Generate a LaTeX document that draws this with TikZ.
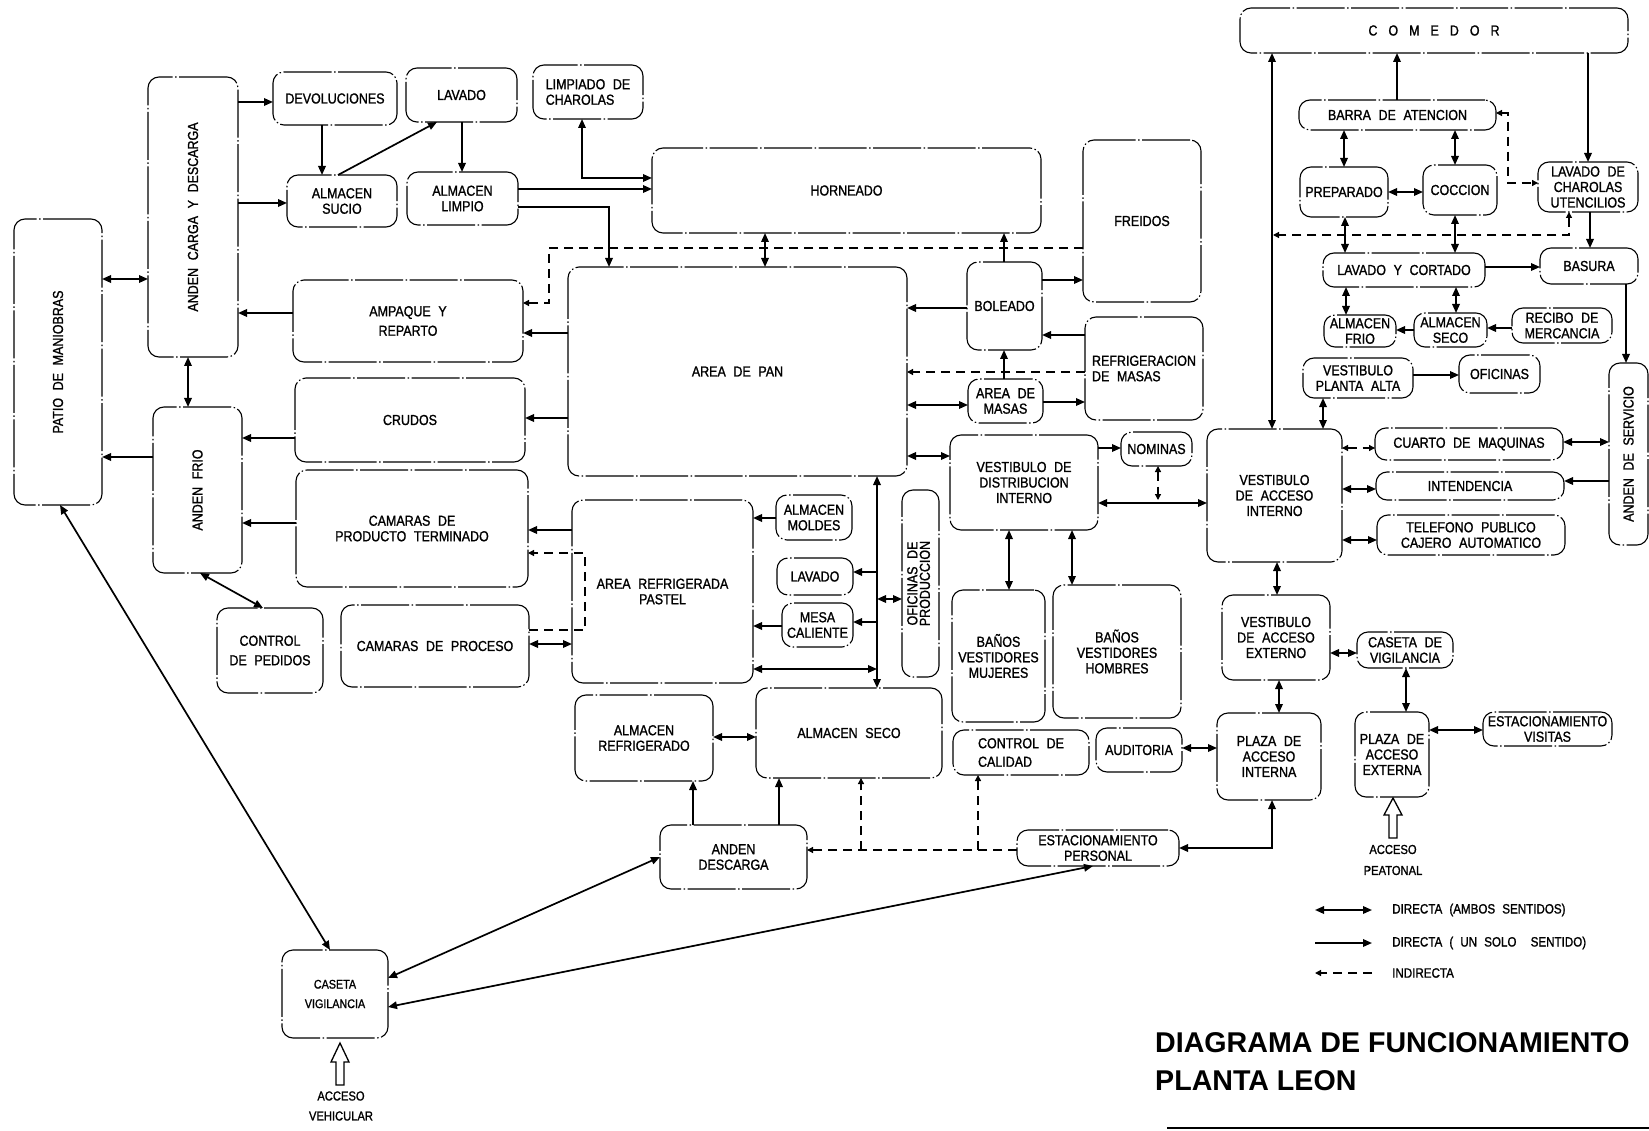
\documentclass[tikz,border=0pt]{standalone}
\usepackage{fontspec}
\usepackage{graphicx}
\usetikzlibrary{arrows.meta}
\newfontfamily\cadf[FakeStretch=0.86,WordSpace=2.2,FakeBold=1.2]{Liberation Sans}
\newfontfamily\titlef{Liberation Sans}
\newcommand\B[7][]{\node[bx,minimum width={(#5-#3)*1pt},minimum height={(#6-#4)*1pt},#1] (#2) at ({(#3+#5)/2},{(#4+#6)/2}) {#7};}
\newcommand\R[1]{\rotatebox{90}{#1}}
\tikzset{
  bx/.style={draw, line width=1.1pt, rounded corners=11pt, inner sep=0pt, outer sep=0pt, align=center,
    font=\cadf\fontsize{14.5}{15.5}\selectfont, dash pattern=on 48pt off 2.5pt on 1.5pt off 2.5pt},
  sm/.style={font=\cadf\fontsize{12.5}{13.5}\selectfont},
  dbl/.style={line width=1.7pt, {Triangle[length=9pt,width=7.5pt]}-{Triangle[length=9pt,width=7.5pt]}},
  one/.style={line width=1.7pt, -{Triangle[length=9pt,width=7.5pt]}},
  ind/.style={line width=1.3pt, dash pattern=on 9pt off 6pt, -{Triangle[length=6pt,width=6pt]}},
  indd/.style={line width=1.3pt, dash pattern=on 9pt off 6pt, {Triangle[length=6pt,width=6pt]}-{Triangle[length=6pt,width=6pt]}},
  lbl/.style={font=\cadf\fontsize{13.5}{15}\selectfont, inner sep=0pt},
}
\begin{document}
\begin{tikzpicture}[x=1pt,y=-1pt]
\path[fill=white,use as bounding box] (0,0) rectangle (1649,1131);

% ---------------- boxes ----------------
\B{patio}{14}{219}{102}{505}{\R{PATIO DE MANIOBRAS}}
\B{cyd}{148}{77}{238}{357}{\R{ANDEN CARGA Y DESCARGA}}
\B{devol}{273}{72}{397}{125}{DEVOLUCIONES}
\B{lav1}{406}{68}{517}{122}{LAVADO}
\B{sucio}{287}{175}{397}{227}{ALMACEN\\SUCIO}
\B{limpio}{407}{172}{518}{225}{ALMACEN\\LIMPIO}
\B[align=left]{limpch}{533}{65}{643}{119}{LIMPIADO DE\\CHAROLAS}
\B{horn}{652}{148}{1041}{233}{HORNEADO}
\B{pan}{568}{267}{907}{476}{AREA DE PAN}
\B{freidos}{1083}{140}{1201}{302}{FREIDOS}
\B{boleado}{967}{262}{1042}{350}{BOLEADO}
\B[align=left]{refm}{1085}{317}{1203}{420}{REFRIGERACION\\ DE MASAS}
\B{masas}{968}{379}{1043}{423}{AREA DE\\MASAS}
\B{nom}{1121}{432}{1192}{466}{NOMINAS}
\B{vdi}{950}{435}{1098}{530}{VESTIBULO DE\\DISTRIBUCION\\INTERNO}
\B{amp}{293}{280}{523}{362}{AMPAQUE Y\\[4pt]REPARTO}
\B{crudos}{295}{378}{525}{462}{CRUDOS}
\B{frio}{153}{407}{242}{573}{\R{ANDEN FRIO}}
\B{cpt}{296}{470}{528}{587}{CAMARAS DE\\PRODUCTO TERMINADO}
\B{ped}{217}{608}{323}{693}{CONTROL\\[4pt]DE PEDIDOS}
\B{cpr}{341}{605}{529}{687}{CAMARAS DE PROCESO}
\B{arp}{572}{500}{753}{683}{AREA REFRIGERADA\\PASTEL}
\B{moldes}{776}{495}{852}{540}{ALMACEN\\MOLDES}
\B{lav2}{777}{558}{853}{595}{LAVADO}
\B{mesa}{782}{603}{853}{647}{MESA\\CALIENTE}
\B{ofp}{902}{490}{939}{677}{\R{\begin{tabular}{@{}c@{}}OFICINAS DE\\[-3pt]PRODUCCION\end{tabular}}}
\B{bm}{952}{590}{1045}{722}{BAÑOS\\VESTIDORES\\MUJERES}
\B{bh}{1053}{585}{1181}{718}{BAÑOS\\VESTIDORES\\HOMBRES}
\B{aseco}{756}{688}{942}{778}{ALMACEN SECO}
\B{aref}{575}{695}{713}{781}{ALMACEN\\REFRIGERADO}
\B[align=left]{cal}{953}{730}{1089}{775}{CONTROL DE\\[3pt]CALIDAD}
\B{aud}{1096}{728}{1182}{772}{AUDITORIA}
\B{desc}{660}{825}{807}{889}{ANDEN\\DESCARGA}
\B{estp}{1017}{830}{1179}{866}{ESTACIONAMIENTO\\PERSONAL}
\B[sm]{cv}{282}{950}{388}{1038}{CASETA\\[6pt]VIGILANCIA}
\B{comedor}{1240}{8}{1628}{53}{C\hspace{11pt}O\hspace{11pt}M\hspace{11pt}E\hspace{11pt}D\hspace{11pt}O\hspace{11pt}R}
\B{barra}{1299}{100}{1496}{130}{BARRA DE ATENCION}
\B{prep}{1300}{167}{1388}{217}{PREPARADO}
\B{cocc}{1423}{165}{1497}{215}{COCCION}
\B{lch}{1538}{162}{1638}{212}{LAVADO DE\\CHAROLAS\\UTENCILIOS}
\B{lyc}{1323}{253}{1485}{287}{LAVADO Y CORTADO}
\B{bas}{1540}{248}{1638}{284}{BASURA}
\B{afrio}{1324}{315}{1396}{347}{ALMACEN\\FRIO}
\B{asec2}{1414}{313}{1487}{347}{ALMACEN\\SECO}
\B{rec}{1512}{308}{1612}{343}{RECIBO DE\\MERCANCIA}
\B{vpa}{1303}{358}{1413}{398}{VESTIBULO\\PLANTA ALTA}
\B{ofi}{1459}{355}{1540}{393}{OFICINAS}
\B{ads}{1609}{363}{1648}{545}{\R{ANDEN DE SERVICIO}}
\B{vai}{1207}{429}{1342}{562}{VESTIBULO\\DE ACCESO\\INTERNO}
\B{cm}{1375}{428}{1563}{460}{CUARTO DE MAQUINAS}
\B{int}{1376}{472}{1564}{500}{INTENDENCIA}
\B{tel}{1377}{515}{1565}{555}{TELEFONO PUBLICO\\CAJERO AUTOMATICO}
\B{vae}{1222}{595}{1330}{680}{VESTIBULO\\DE ACCESO\\EXTERNO}
\B{cdv}{1357}{632}{1453}{668}{CASETA DE\\VIGILANCIA}
\B{pai}{1217}{713}{1321}{800}{PLAZA DE\\ACCESO\\INTERNA}
\B{pae}{1355}{712}{1429}{797}{PLAZA DE\\ACCESO\\EXTERNA}
\B{estv}{1483}{712}{1612}{746}{ESTACIONAMIENTO\\VISITAS}

% ---------------- connectors: left ----------------
\draw[dbl] (patio.east |- 0,279) -- (cyd.west |- 0,279);
\draw[one] (cyd.east |- 0,102) -- (devol.west |- 0,102);
\draw[one] (cyd.east |- 0,203) -- (sucio.west |- 0,203);
\draw[one] (devol.south -| 322,0) -- (sucio.north -| 322,0);
\draw[one] (sucio.north -| 338,0) -- (lav1.south -| 437,0);
\draw[one] (lav1.south -| 462,0) -- (limpio.north -| 462,0);
\draw[one] (limpio.east |- 0,189) -- (horn.west |- 0,189);
\draw[dbl] (limpch.south -| 582,0) |- (horn.west |- 0,178);
\draw[one] (limpio.east |- 0,207) -| (pan.north -| 609,0);
\draw[dbl] (horn.south -| 765,0) -- (pan.north -| 765,0);
\draw[ind] (freidos.west |- 0,248) -| (549,303) -- (amp.east |- 0,303);
\draw[one] (pan.west |- 0,333) -- (amp.east |- 0,333);
\draw[one] (pan.west |- 0,418) -- (crudos.east |- 0,418);
\draw[one] (amp.west |- 0,313) -- (cyd.east |- 0,313);
\draw[dbl] (cyd.south -| 188,0) -- (frio.north -| 188,0);
\draw[one] (crudos.west |- 0,438) -- (frio.east |- 0,438);
\draw[one] (frio.west |- 0,457) -- (patio.east |- 0,457);
\draw[one] (cpt.west |- 0,523) -- (frio.east |- 0,523);
\draw[dbl] (frio.south -| 200,0) -- (ped.north -| 263,0);
\draw[dbl] (patio.south -| 60,0) -- (cv.north -| 330,0);
\draw[one] (arp.west |- 0,530) -- (cpt.east |- 0,530);
\draw[ind] (cpr.east |- 0,630) -| (585,553) -- (cpt.east |- 0,553);
\draw[dbl] (cpr.east |- 0,644) -- (arp.west |- 0,644);
\draw[one] (moldes.west |- 0,518) -- (arp.east |- 0,518);
\draw[one] (mesa.west |- 0,626) -- (arp.east |- 0,626);

% ---------------- centre ----------------
\draw[dbl] (pan.south -| 877,0) -- (aseco.north -| 877,0);
\coordinate (b1) at (877,572);
\coordinate (b2) at (877,622);
\coordinate (b3) at (877,599);
\coordinate (b4) at (877,669);
\draw[one] (b1) -- (lav2.east |- b1);
\draw[one] (b2) -- (mesa.east |- b2);
\draw[dbl] (b3) -- (ofp.west |- b3);
\draw[dbl] (arp.east |- b4) -- (b4);
\draw[one] (boleado.west |- 0,308) -- (pan.east |- 0,308);
\draw[one] (boleado.north -| 1004,0) -- (horn.south -| 1004,0);
\draw[one] (boleado.east |- 0,280) -- (freidos.west |- 0,280);
\draw[one] (refm.west |- 0,335) -- (boleado.east |- 0,335);
\draw[one] (masas.north -| 1004,0) -- (boleado.south -| 1004,0);
\draw[ind] (refm.west |- 0,372) -- (pan.east |- 0,372);
\draw[dbl] (pan.east |- 0,405) -- (masas.west |- 0,405);
\draw[one] (masas.east |- 0,402) -- (refm.west |- 0,402);
\draw[dbl] (pan.east |- 0,456) -- (vdi.west |- 0,456);
\draw[one] (vdi.east |- 0,448) -- (nom.west |- 0,448);
\coordinate (n1) at (1158,500);
\draw[indd] (nom.south -| n1) -- (n1);
\draw[dbl] (vdi.east |- 0,503) -- (vai.west |- 0,503);
\draw[dbl] (vdi.south -| 1009,0) -- (bm.north -| 1009,0);
\draw[dbl] (vdi.south -| 1072,0) -- (bh.north -| 1072,0);
\draw[dbl] (aref.east |- 0,737) -- (aseco.west |- 0,737);
\draw[one] (desc.north -| 693,0) -- (aref.south -| 693,0);
\draw[one] (desc.north -| 779,0) -- (aseco.south -| 779,0);
\draw[ind] (estp.west |- 0,850) -- (desc.east |- 0,850);
\coordinate (j1) at (861,850);
\coordinate (j2) at (978,850);
\draw[ind] (j1) -- (aseco.south -| j1);
\draw[ind] (j2) -- (cal.south -| j2);
\draw[dbl] (cv.east |- 0,978) -- (desc.west |- 0,857);
\draw[dbl] (cv.east |- 0,1007) -- (estp.south -| 1093,0);

% ---------------- right ----------------
\draw[dbl] (estp.east |- 0,848) -| (pai.south -| 1272,0);
\draw[dbl] (aud.east |- 0,748) -- (pai.west |- 0,748);
\draw[dbl] (vae.south -| 1279,0) -- (pai.north -| 1279,0);
\draw[dbl] (vai.south -| 1277,0) -- (vae.north -| 1277,0);
\draw[dbl] (vae.east |- 0,653) -- (cdv.west |- 0,653);
\draw[dbl] (cdv.south -| 1406,0) -- (pae.north -| 1406,0);
\draw[dbl] (pae.east |- 0,730) -- (estv.west |- 0,730);
\draw[indd] (vai.east |- 0,448) -- (cm.west |- 0,448);
\draw[dbl] (vai.east |- 0,489) -- (int.west |- 0,489);
\draw[dbl] (vai.east |- 0,540) -- (tel.west |- 0,540);
\draw[dbl] (cm.east |- 0,442) -- (ads.west |- 0,442);
\draw[one] (ads.west |- 0,481) -- (int.east |- 0,481);
\draw[one] (bas.south -| 1626,0) -- (ads.north -| 1626,0);
\draw[one] (comedor.south -| 1588,0) -- (lch.north -| 1588,0);
\draw[one] (lch.south -| 1590,0) -- (bas.north -| 1590,0);
\draw[one] (barra.north -| 1397,0) -- (comedor.south -| 1397,0);
\draw[dbl] (barra.south -| 1344,0) -- (prep.north -| 1344,0);
\draw[dbl] (barra.south -| 1455,0) -- (cocc.north -| 1455,0);
\draw[dbl] (prep.east |- 0,192) -- (cocc.west |- 0,192);
\draw[dbl] (prep.south -| 1345,0) -- (lyc.north -| 1345,0);
\draw[dbl] (cocc.south -| 1455,0) -- (lyc.north -| 1455,0);
\draw[one] (lyc.east |- 0,267) -- (bas.west |- 0,267);
\draw[dbl] (lyc.south -| 1346,0) -- (afrio.north -| 1346,0);
\draw[dbl] (lyc.south -| 1456,0) -- (asec2.north -| 1456,0);
\draw[one] (asec2.west |- 0,330) -- (afrio.east |- 0,330);
\draw[one] (rec.west |- 0,328) -- (asec2.east |- 0,328);
\draw[one] (vpa.east |- 0,375) -- (ofi.west |- 0,375);
\draw[indd] (barra.east |- 0,113) -| (1508,183) -- (lch.west |- 0,183);
\coordinate (k1) at (1273,235);
\draw[indd] (lch.south -| 1569,0) |- (k1);
\draw[dbl] (vai.north -| 1272,0) -- (comedor.south -| 1272,0);
\draw[dbl] (vai.north -| 1323,0) -- (vpa.south -| 1323,0);

% ---------------- access arrows ----------------
\draw[line width=1.3pt, line join=miter] (1393,798) -- (1402,815) -- (1397,815) -- (1397,838) -- (1389,838) -- (1389,815) -- (1384,815) -- cycle;
\node[align=center, font=\cadf\fontsize{13}{21}\selectfont] (accp) at (1393,860) {ACCESO\\PEATONAL};
\draw[line width=1.3pt, line join=miter] (340,1043) -- (349,1062) -- (344,1062) -- (344,1085) -- (336,1085) -- (336,1062) -- (331,1062) -- cycle;
\node[align=center, font=\cadf\fontsize{13}{20}\selectfont] (accv) at (341,1106) {ACCESO\\VEHICULAR};

% ---------------- legend ----------------
\coordinate (l1a) at (1315,910); \coordinate (l1b) at (1372,910);
\coordinate (l2a) at (1315,943); \coordinate (l2b) at (1372,943);
\coordinate (l3a) at (1315,973); \coordinate (l3b) at (1372,973);
\draw[dbl] (l1a) -- (l1b);
\draw[one] (l2a) -- (l2b);
\draw[ind] (l3b) -- (l3a);
\node[lbl, anchor=west] (lt1) at (1392,910) {DIRECTA (AMBOS SENTIDOS)};
\node[lbl, anchor=west] (lt2) at (1392,943) {DIRECTA ( UN SOLO \ SENTIDO)};
\node[lbl, anchor=west] (lt3) at (1392,973) {INDIRECTA};

% ---------------- title ----------------
\node[anchor=base west, inner sep=0pt, font=\titlef\bfseries\fontsize{28.6}{30}\selectfont] (t1) at (1155,1052) {DIAGRAMA DE FUNCIONAMIENTO};
\node[anchor=base west, inner sep=0pt, font=\titlef\bfseries\fontsize{28.6}{30}\selectfont] (t2) at (1155,1090) {PLANTA LEON};
\draw[line width=2.5pt] (1167,1128) -- (1649,1128);
\end{tikzpicture}
\end{document}
